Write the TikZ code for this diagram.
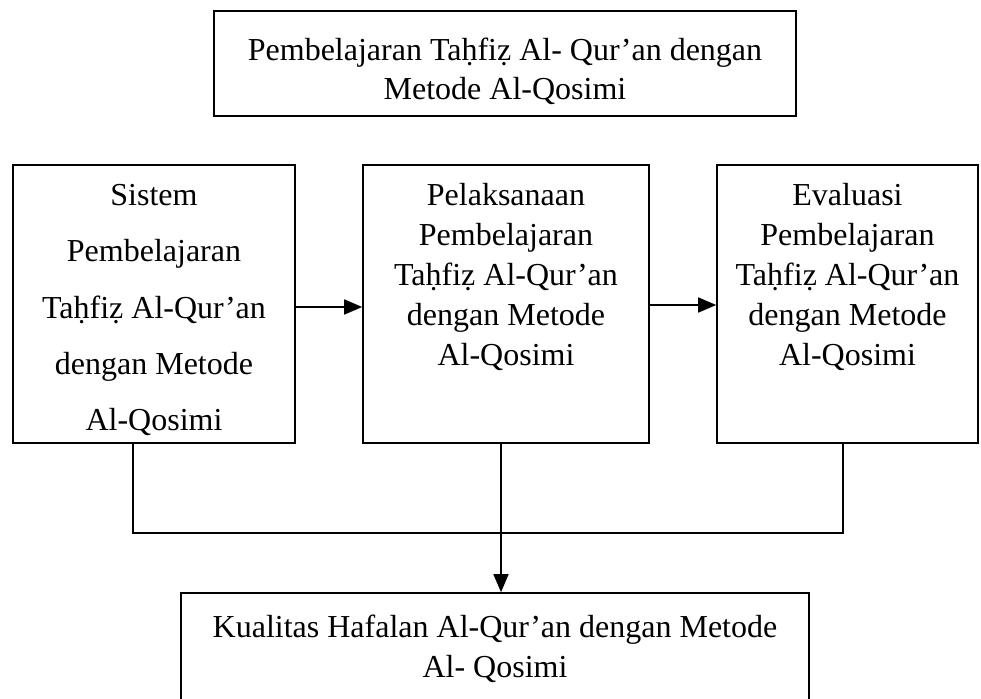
\documentclass[tikz,border=0pt]{standalone}
\usepackage{fontspec}
\setmainfont{Liberation Serif}
\usetikzlibrary{arrows.meta}
\begin{document}
\begin{tikzpicture}[x=1pt, y=-1pt, >={Triangle[length=18pt, width=15pt]},
		every node/.style={font=\fontsize{32}{40}\selectfont, align=center},
		box/.style={draw, line width=1.6pt, inner sep=0pt},
		line/.style={line width=1.6pt}]
	\clip (0,0) rectangle (981,698);
	\fill[white] (0,0) rectangle (981,698);
	% judul
	\node[box, minimum width=582pt, minimum height=105pt] (judul) at (505,63.5) {};
	\node[anchor=north, inner sep=0pt, font=\fontsize{32}{39}\selectfont] (tjudul)
		at ([yshift=-28pt]judul.north)
		{Pembelajaran Taḥfiẓ Al- Qur’an dengan\\Metode Al-Qosimi};
	% tiga kotak tengah
	\node[box, minimum width=282pt, minimum height=278pt] (sistem) at (154,304) {};
	\node[anchor=north, inner sep=0pt, font=\fontsize{32}{56.25}\selectfont] (tsistem)
		at ([yshift=-20pt]sistem.north)
		{Sistem\\Pembelajaran\\Taḥfiẓ Al-Qur’an\\dengan Metode\\Al-Qosimi};
	\node[box, minimum width=286pt, minimum height=278pt] (pelaksanaan) at (506,304) {};
	\node[anchor=north, inner sep=0pt] (tpelaksanaan) at ([yshift=-19pt]pelaksanaan.north)
		{Pelaksanaan\\Pembelajaran\\Taḥfiẓ Al-Qur’an\\dengan Metode\\Al-Qosimi};
	\node[box, minimum width=261pt, minimum height=278pt] (evaluasi) at (847.5,304) {};
	\node[anchor=north, inner sep=0pt] (tevaluasi) at ([yshift=-19pt]evaluasi.north)
		{Evaluasi\\Pembelajaran\\Taḥfiẓ Al-Qur’an\\dengan Metode\\Al-Qosimi};
	% hasil
	\node[box, minimum width=628pt, minimum height=112pt] (kualitas) at (495,649)
		{Kualitas Hafalan Al-Qur’an dengan Metode\\Al- Qosimi};
	\draw[line, ->] ([yshift=-3pt]sistem.east) -- ([yshift=-3pt]sistem.east -| pelaksanaan.west);
	\draw[line, ->] ([yshift=-1pt]pelaksanaan.east) -- ([yshift=-1pt]pelaksanaan.east -| evaluasi.west);
	\coordinate (kiri) at (133,533);
	\coordinate (tengah) at (501,533);
	\coordinate (kanan) at (843,533);
	\draw[line] (sistem.south -| kiri) -- (kiri) -- (kanan) -- (evaluasi.south -| kanan);
	\draw[line, ->] (pelaksanaan.south -| tengah) -- (kualitas.north -| tengah);
\end{tikzpicture}
\end{document}
